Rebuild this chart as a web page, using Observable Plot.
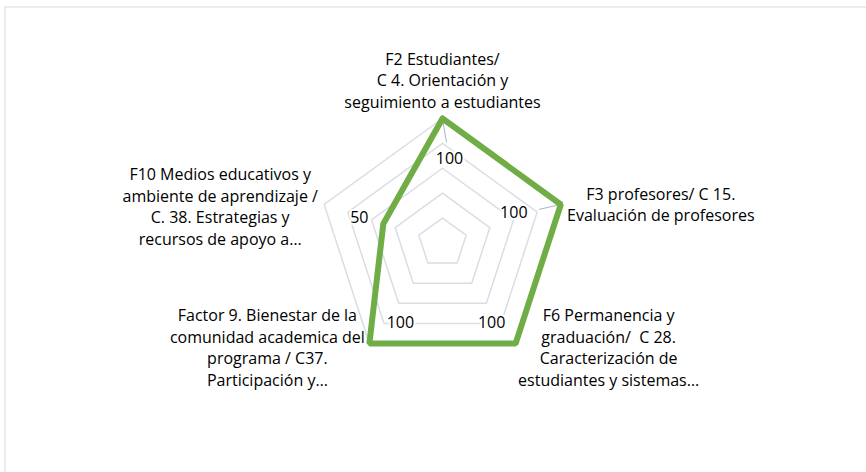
<!DOCTYPE html>
<html><head><meta charset="utf-8">
<script src="https://cdn.jsdelivr.net/npm/d3@7"></script>
<script src="https://cdn.jsdelivr.net/npm/@observablehq/plot@0.6"></script>
<style>body{margin:0;background:#fff} svg{display:block}</style>
</head><body><div id="chart"></div>
<script>
// ---- data ----
const categories = [
  "F2 Estudiantes/\nC 4. Orientación y\nseguimiento a estudiantes",
  "F3 profesores/ C 15.\nEvaluación de profesores",
  "F6 Permanencia y\ngraduación/  C 28.\nCaracterización de\nestudiantes y sistemas…",
  "Factor 9. Bienestar de la\ncomunidad academica del\nprograma / C37.\nParticipación y…",
  "F10 Medios educativos y\nambiente de aprendizaje /\nC. 38. Estrategias y\nrecursos de apoyo a…"
];
const values = [100, 100, 100, 100, 50];
const gridLevels = [20, 40, 60, 80, 100];
const maxValue = 100;

// ---- layout (pixels) ----
const W = 866, H = 472;
const cx = 442, cy = 242.4, Rpx = 124.4;
const k = Rpx / maxValue;
const catOffsets = [[0, -39], [100, -1], [93, 3], [-102, 3], [-104, 1]];
const valOffsets = [[7, 40], [-47, 8], [-24, -21], [31, -21], [-24, -6]];
const FONT = "'Open Sans', Lato, sans-serif";
const FS = 16;
const green = "#70AD47", gridColor = "#D9DEE6";

const n = categories.length;
const ang = i => i * 2 * Math.PI / n;
const pt = (i, v) => ({x: v * Math.sin(ang(i)), y: v * Math.cos(ang(i))});

const grid = gridLevels.flatMap(l => d3.range(n + 1).map(i => ({...pt(i % n, l), level: l})));
const series = d3.range(n + 1).map(i => ({...pt(i % n, values[i % n]), v: values[i % n]}));
const outer = categories.map((c, i) => ({...pt(i, maxValue), label: c, i}));
const pts = values.map((v, i) => ({...pt(i, v), v, i}));

const marks = [
  Plot.frame({stroke: "#D9D9D9", strokeWidth: 1, insetLeft: 4.5, insetTop: 6.5, insetRight: -20, insetBottom: -20}),
  Plot.line(grid, {x: "x", y: "y", z: "level", stroke: gridColor, strokeWidth: 1.5}),
  Plot.link([pts[0]], {x1: "x", y1: "y", x2: d => d.x + 4 / k, y2: d => d.y - 24 / k, stroke: "#A6B4C8", strokeWidth: 1}),
  Plot.link([pts[1]], {x1: "x", y1: "y", x2: d => d.x - 22 / k, y2: d => d.y - 5 / k, stroke: "#A6B4C8", strokeWidth: 1}),
  Plot.line(series, {x: "x", y: "y", stroke: green, strokeWidth: 6, strokeLinejoin: "miter"}),
  ...outer.map((d, i) => Plot.text([d], {x: "x", y: "y", text: "label", dx: catOffsets[i][0], dy: catOffsets[i][1],
      textAnchor: "middle", lineAnchor: "middle", lineHeight: 1.36, fontSize: FS, fill: "#000", fontFamily: FONT})),
  ...pts.map((d, i) => Plot.text([d], {x: "x", y: "y", text: d => String(d.v), dx: valOffsets[i][0], dy: valOffsets[i][1],
      textAnchor: "middle", lineAnchor: "middle", fontSize: FS, fill: "#000", fontFamily: FONT,
      stroke: "white", strokeWidth: 4, paintOrder: "stroke"}))
];

const chart = Plot.plot({
  width: W, height: H, margin: 0,
  x: {domain: [-cx / k, (W - cx) / k], axis: null},
  y: {domain: [-(H - cy) / k, cy / k], axis: null},
  style: {fontFamily: FONT, background: "white"},
  marks
});
document.getElementById("chart").append(chart);
</script>
</body></html>
